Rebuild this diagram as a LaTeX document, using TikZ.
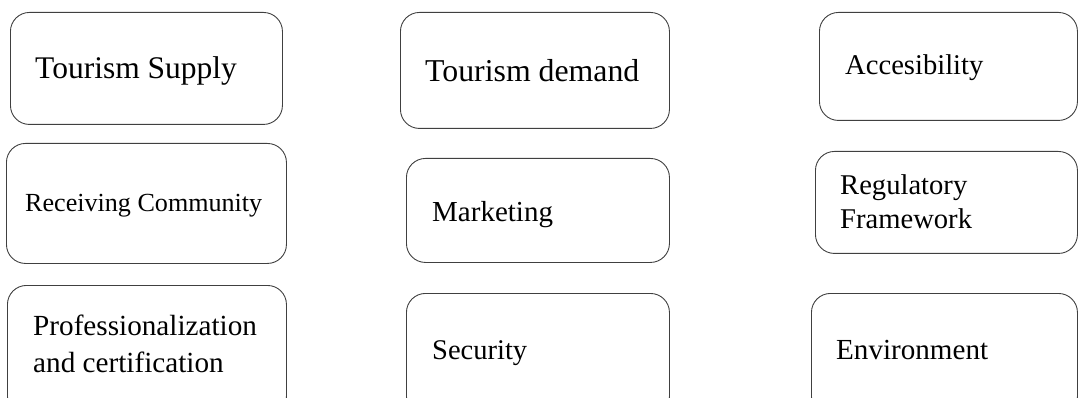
\documentclass[tikz,border=0pt]{standalone}
\usepackage{fontspec}
\setmainfont{Liberation Serif}
\tikzset{
  box/.style={draw=black!75, line width=0.9pt, rounded corners=19pt, anchor=north west, inner sep=0pt},
  lbl/.style={anchor=base west, inner sep=0pt, align=left, text=black},
}
\begin{document}
\begin{tikzpicture}[x=1pt,y=-1pt]
\useasboundingbox (0,0) rectangle (1079,398);
\clip (0,0) rectangle (1079,398);
% row 1
\node[box, minimum width=272pt, minimum height=112pt] (b1) at (10,12) {};
\node[lbl, font=\fontsize{31.5}{36}\selectfont] (t1) at (35,79) {Tourism Supply};
\node[box, minimum width=269pt, minimum height=116pt] (b2) at (400,12) {};
\node[lbl, font=\fontsize{31.8}{36}\selectfont] (t2) at (425,82) {Tourism demand};
\node[box, minimum width=258pt, minimum height=108pt] (b3) at (819,12) {};
\node[lbl, font=\fontsize{28.6}{34}\selectfont] (t3) at (845,75) {Accesibility};
% row 2
\node[box, minimum width=280pt, minimum height=120pt] (b4) at (6,143) {};
\node[lbl, font=\fontsize{26.1}{30}\selectfont] (t4) at (25,212) {Receiving Community};
\node[box, minimum width=263pt, minimum height=104pt] (b5) at (406,158) {};
\node[lbl, font=\fontsize{29}{34}\selectfont] (t5) at (432,222) {Marketing};
\node[box, minimum width=262pt, minimum height=102pt] (b6) at (815,151) {};
\node[lbl, font=\fontsize{28.6}{34}\selectfont] (t6) at (840,229) {Regulatory\\Framework};
% row 3
\node[box, minimum width=279pt, minimum height=130pt] (b7) at (7,285) {};
\node[lbl, font=\fontsize{29.2}{37}\selectfont] (t7) at (33,372) {Professionalization\\and certification};
\node[box, minimum width=263pt, minimum height=122pt] (b8) at (406,293) {};
\node[lbl, font=\fontsize{28.5}{34}\selectfont] (t8) at (432,359) {Security};
\node[box, minimum width=266pt, minimum height=122pt] (b9) at (811,293) {};
\node[lbl, font=\fontsize{29.1}{34}\selectfont] (t9) at (836,359) {Environment};
\end{tikzpicture}
\end{document}
